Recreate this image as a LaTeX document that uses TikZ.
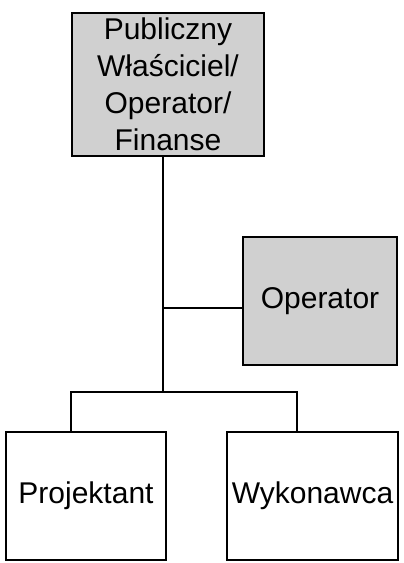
\documentclass[tikz,border=0pt]{standalone}
\usepackage{fontspec}
\setmainfont{Liberation Sans}
\definecolor{boxgray}{RGB}{208,208,208}
\begin{document}
\begin{tikzpicture}[x=1pt, y=-1pt, line width=1.5pt,
    main/.style = {draw, rectangle, inner sep=0pt, align=center,
      font=\fontsize{30}{37}\selectfont},
    shaded/.style = {main, fill=boxgray}]
      \useasboundingbox (0,0) rectangle (404,563);

      \node[shaded, minimum width=192pt, minimum height=143pt] (owner) at (168,84.5)
        {Publiczny\\W\l{}a\'sciciel/\\Operator/\\Finanse};
      \node[shaded, minimum width=154pt, minimum height=128pt] (operator) at (320,301) {Operator};

      \node[main, minimum width=160pt, minimum height=128pt] (designer) at (86,496) {Projektant};
      \node[main, minimum width=171pt, minimum height=128pt] (contractor) at (312.5,496) {Wykonawca};

      \coordinate (fork) at (163,392);
      \coordinate (tee) at (163,308);
      \coordinate (dropl) at (71,432);
      \coordinate (dropr) at (297,432);

      \draw (owner.south -| fork) -- (fork);
      \draw (tee) -- (tee -| operator.west);
      \draw (dropl) |- (fork) -| (dropr);
    \end{tikzpicture}
\end{document}
